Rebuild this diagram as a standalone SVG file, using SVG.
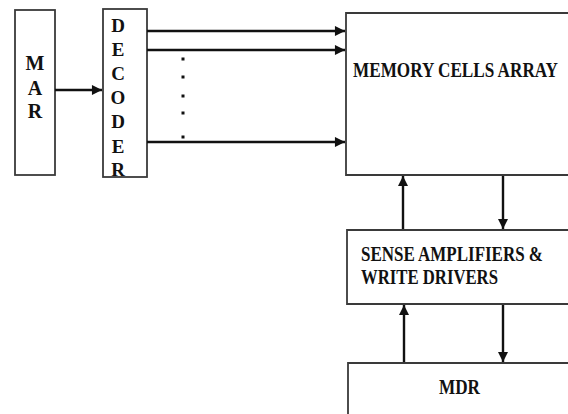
<svg xmlns="http://www.w3.org/2000/svg" width="568" height="414" viewBox="0 0 568 414">
<style>
.box{fill:#fff;stroke:#3a3a3a;stroke-width:1.8}
.t{font-family:"Liberation Serif","Times New Roman",serif;font-weight:bold;fill:#111}
.w{font-size:17px}
.c{stroke:#111;stroke-width:2.4;fill:none}
</style>
<defs>
<marker id="ah" viewBox="0 0 10 10" refX="10" refY="5" markerWidth="4.6" markerHeight="4.2" orient="auto" markerUnits="strokeWidth">
<path d="M0,0 L10,5 L0,10 z" fill="#111"/>
</marker>
</defs>
<rect width="568" height="414" fill="#fff"/>
<g id="mar">
<rect class="box" x="15" y="10" width="40" height="165"/>
<text class="t" font-size="20" text-anchor="middle" x="35" y="70">M</text>
<text class="t" font-size="20" text-anchor="middle" x="35" y="95">A</text>
<text class="t" font-size="20" text-anchor="middle" x="35" y="118">R</text>
</g>
<g id="decoder">
<rect class="box" x="103" y="9" width="44" height="168"/>
<text class="t" font-size="19" text-anchor="middle" x="118" y="32">D</text>
<text class="t" font-size="19" text-anchor="middle" x="118" y="56">E</text>
<text class="t" font-size="19" text-anchor="middle" x="118" y="80">C</text>
<text class="t" font-size="19" text-anchor="middle" x="118" y="104">O</text>
<text class="t" font-size="19" text-anchor="middle" x="118" y="128">D</text>
<text class="t" font-size="19" text-anchor="middle" x="118" y="153">E</text>
<text class="t" font-size="19" text-anchor="middle" x="118" y="176">R</text>
</g>
<g id="memory">
<path class="box" d="M568,13 H346 V175 H568"/>
<text class="t w" transform="translate(353,77) scale(1,1.22)" textLength="205" lengthAdjust="spacingAndGlyphs">MEMORY CELLS ARRAY</text>
</g>
<g id="sense">
<path class="box" d="M568,230 H347 V304 H568"/>
<text class="t w" transform="translate(361,261) scale(1,1.22)" textLength="182" lengthAdjust="spacingAndGlyphs">SENSE AMPLIFIERS &amp;</text>
<text class="t w" transform="translate(361,284) scale(1,1.22)" textLength="137" lengthAdjust="spacingAndGlyphs">WRITE DRIVERS</text>
</g>
<g id="mdr">
<path class="box" d="M348,414 V363 H568"/>
<text class="t w" transform="translate(439,394) scale(1,1.22)" textLength="41" lengthAdjust="spacingAndGlyphs">MDR</text>
</g>
<g id="connectors">
<line class="c" x1="55" y1="90" x2="102" y2="90" marker-end="url(#ah)"/>
<line class="c" x1="147" y1="31" x2="345" y2="31" marker-end="url(#ah)"/>
<line class="c" x1="147" y1="50" x2="345" y2="50" marker-end="url(#ah)"/>
<line class="c" x1="147" y1="142" x2="345" y2="142" marker-end="url(#ah)"/>
<g fill="#111">
<rect x="181.5" y="57.5" width="3" height="3"/>
<rect x="181.5" y="75.5" width="3" height="3"/>
<rect x="181.5" y="94.5" width="3" height="3"/>
<rect x="181.5" y="111.5" width="3" height="3"/>
<rect x="181.5" y="135.5" width="3" height="3"/>
</g>
<line class="c" x1="403" y1="229" x2="403" y2="176" marker-end="url(#ah)"/>
<line class="c" x1="503" y1="176" x2="503" y2="229" marker-end="url(#ah)"/>
<line class="c" x1="404" y1="362" x2="404" y2="305" marker-end="url(#ah)"/>
<line class="c" x1="503" y1="305" x2="503" y2="362" marker-end="url(#ah)"/>
</g>
</svg>
